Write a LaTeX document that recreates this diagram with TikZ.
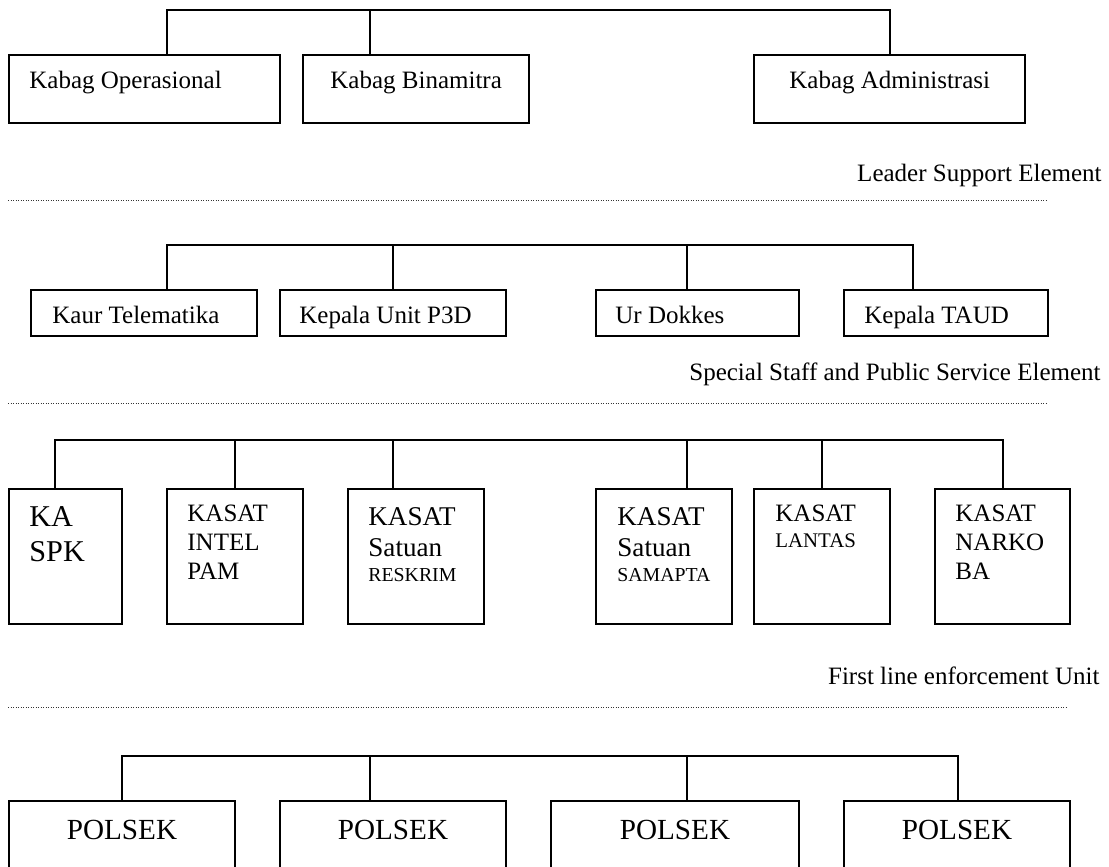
\documentclass[tikz,border=0pt]{standalone}
\usepackage{fontspec}
\setmainfont{Liberation Serif}
\usetikzlibrary{fit}
\newcommand\mkbox[5]{\node[box, fit={(#2,#3) (#4,#5)}] (#1) {};}
\begin{document}
\begin{tikzpicture}[x=0.48pt,y=-0.48pt,
  box/.style={draw, line width=0.6pt, inner sep=0pt},
  conn/.style={line width=0.6pt},
  sepline/.style={line width=0.45pt, dash pattern=on 0.45pt off 0.75pt, black!80},
  txt/.style={inner sep=0pt, anchor=base west, font=\fontsize{12}{14}\selectfont},
  lbl/.style={inner sep=0pt, anchor=base east, font=\fontsize{12}{14}\selectfont},
  big/.style={font=\fontsize{14.5}{16}\selectfont},
  mid/.style={font=\fontsize{13}{15}\selectfont},
  sml/.style={font=\fontsize{9.5}{11}\selectfont},
  pol/.style={inner sep=0pt, anchor=base, font=\fontsize{14}{16}\selectfont}]
\useasboundingbox (0,0) rectangle (1109,867);
\clip (0,0) rectangle (1109,867);

% ---------- top level ----------
\mkbox{ba}{9}{55}{280}{123}
\mkbox{bb}{303}{55}{529}{123}
\mkbox{bc}{754}{55}{1025}{123}
\coordinate (ta) at (167,10);
\coordinate (tb) at (370,10);
\coordinate (tc) at (890,10);
\draw[conn] (ta |- ba.north) -- (ta) -- (tc) -- (tc |- bc.north);
\draw[conn] (tb) -- (tb |- bb.north);
\node[txt] (xa) at (29,89) {Kabag Operasional};
\node[txt] (xb) at (330,89) {Kabag Binamitra};
\node[txt] (xc) at (789,89) {Kabag Administrasi};

\node[lbl] (l1) at (1102,182) {Leader Support Element};
\coordinate (d1s) at (8,200);
\coordinate (d1e) at (1047,200);
\draw[sepline] (d1s) -- (d1e);

% ---------- second level ----------
\mkbox{kt}{31}{290}{257}{336}
\mkbox{kp}{280}{290}{506}{336}
\mkbox{ud}{596}{290}{799}{336}
\mkbox{kd}{844}{290}{1048}{336}
\coordinate (ua) at (167,245);
\coordinate (ub) at (393,245);
\coordinate (uc) at (687,245);
\coordinate (ud2) at (913,245);
\draw[conn] (ua |- kt.north) -- (ua) -- (ud2) -- (ud2 |- kd.north);
\draw[conn] (ub) -- (ub |- kp.north);
\draw[conn] (uc) -- (uc |- ud.north);
\node[txt] (ykt) at (52,324) {Kaur Telematika};
\node[txt] (ykp) at (299,324) {Kepala Unit P3D};
\node[txt] (yud) at (615,324) {Ur Dokkes};
\node[txt] (ykd) at (864,324) {Kepala TAUD};

\node[lbl] (l2) at (1101,381) {Special Staff and Public Service Element};
\coordinate (d2s) at (8,403);
\coordinate (d2e) at (1047,403);
\draw[sepline] (d2s) -- (d2e);

% ---------- third level ----------
\mkbox{s1}{9}{489}{122}{624}
\mkbox{s2}{167}{489}{303}{624}
\mkbox{s3}{348}{489}{484}{624}
\mkbox{s4}{596}{489}{732}{624}
\mkbox{s5}{754}{489}{890}{624}
\mkbox{s6}{935}{489}{1070}{624}
\coordinate (v1) at (55,440);
\coordinate (v2) at (235,440);
\coordinate (v3) at (393,440);
\coordinate (v4) at (687,440);
\coordinate (v5) at (822,440);
\coordinate (v6) at (1003,440);
\draw[conn] (v1 |- s1.north) -- (v1) -- (v6) -- (v6 |- s6.north);
\draw[conn] (v2) -- (v2 |- s2.north);
\draw[conn] (v3) -- (v3 |- s3.north);
\draw[conn] (v4) -- (v4 |- s4.north);
\draw[conn] (v5) -- (v5 |- s5.north);

\node[txt,big] (z1a) at (29,527) {KA};
\node[txt,big] (z1b) at (29,562) {SPK};
\node[txt] (z2a) at (187,522) {KASAT};
\node[txt] (z2b) at (187,551) {INTEL};
\node[txt] (z2c) at (187,580) {PAM};
\node[txt,mid] (z3a) at (368,526) {KASAT};
\node[txt,mid] (z3b) at (368,557) {Satuan};
\node[txt,sml] (z3c) at (368,582) {RESKRIM};
\node[txt,mid] (z4a) at (617,526) {KASAT};
\node[txt,mid] (z4b) at (617,557) {Satuan};
\node[txt,sml] (z4c) at (617,582) {SAMAPTA};
\node[txt] (z5a) at (775,522) {KASAT};
\node[txt,font=\fontsize{10}{12}\selectfont] (z5b) at (775,548) {LANTAS};
\node[txt] (z6a) at (955,522) {KASAT};
\node[txt] (z6b) at (955,551) {NARKO};
\node[txt] (z6c) at (955,580) {BA};

\node[lbl] (l3) at (1100,684) {First line enforcement Unit};
\coordinate (d3s) at (8,707);
\coordinate (d3e) at (1068,707);
\draw[sepline] (d3s) -- (d3e);

% ---------- fourth level ----------
\mkbox{p1}{9}{801}{235}{900}
\mkbox{p2}{280}{801}{506}{900}
\mkbox{p3}{551}{801}{799}{900}
\mkbox{p4}{844}{801}{1070}{900}
\coordinate (w1) at (122,756);
\coordinate (w2) at (370,756);
\coordinate (w3) at (687,756);
\coordinate (w4) at (958,756);
\draw[conn] (w1 |- p1.north) -- (w1) -- (w4) -- (w4 |- p4.north);
\draw[conn] (w2) -- (w2 |- p2.north);
\draw[conn] (w3) -- (w3 |- p3.north);
\coordinate (yp) at (0,839);
\node[pol] (q1) at (p1.north |- yp) {POLSEK};
\node[pol] (q2) at (p2.north |- yp) {POLSEK};
\node[pol] (q3) at (p3.north |- yp) {POLSEK};
\node[pol] (q4) at (p4.north |- yp) {POLSEK};
\end{tikzpicture}
\end{document}
